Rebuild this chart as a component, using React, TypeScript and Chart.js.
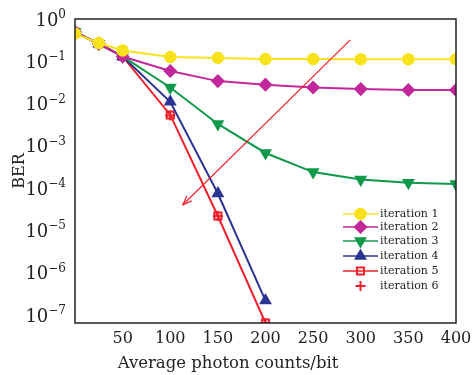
import React, { useEffect, useRef } from "react";
import { Chart, registerables } from "chart.js";
import { drawPoint } from "chart.js/helpers";

Chart.register(...registerables);

const xValues = [0, 25, 50, 100, 150, 200, 250, 300, 350, 400];
const iter1 = [0.45, 0.27, 0.18, 0.126, 0.12, 0.113, 0.113, 0.112, 0.112, 0.112];
const iter2 = [0.49, 0.26, 0.13, 0.059, 0.034, 0.028, 0.024, 0.022, 0.021, 0.021];
const iter3 = [0.49, 0.26, 0.13, 0.024, 0.0033, 0.00068, 0.00024, 0.00016, 0.000135, 0.000125];
const iter4x = [0, 25, 50, 100, 150, 200];
const iter4 = [0.49, 0.26, 0.13, 0.011, 0.000075, 0.00000022];
const iter5x = [0, 25, 50, 100, 150, 200];
const iter5 = [0.49, 0.26, 0.13, 0.0054, 0.000022, 0.000000065];
const iter6x = [0, 25, 50, 100, 150, 200];
const iter6 = [0.49, 0.26, 0.13, 0.0052, 0.000022, 0.000000065];
const labels = ["iteration 1", "iteration 2", "iteration 3", "iteration 4", "iteration 5", "iteration 6"];
const yTickValues = [1e-7, 1e-6, 1e-5, 1e-4, 1e-3, 1e-2, 1e-1, 1];
const xTickValues = [50, 100, 150, 200, 250, 300, 350, 400];
const xTitle = "Average photon counts/bit";
const yTitle = "BER";
const arrowStart = [289, 0.32];
const arrowEnd = [113, 0.00004];

const FONT = "'DejaVu Serif', 'Liberation Serif', serif";

const pts = (xs: number[], ys: number[]) => xs.map((x, i) => ({ x, y: ys[i] }));

export default function App() {
  const ref = useRef<HTMLCanvasElement>(null);
  useEffect(() => {
    document.body.style.margin = "0";
    const ctx = ref.current!;
    const frame = {
      id: "frame",
      afterDraw(chart: any) {
        const { ctx, chartArea: a, scales } = chart;
        ctx.save();
        // y tick labels: 10 with a raised exponent
        ctx.fillStyle = "#222";
        ctx.textAlign = "right";
        ctx.textBaseline = "alphabetic";
        const rx = a.left - 9;
        yTickValues.forEach((v) => {
          const py = scales.y.getPixelForValue(v);
          const e = Math.round(Math.log10(v));
          const es = e < 0 ? "\u2212" + String(-e) : String(e);
          ctx.font = `12px ${FONT}`;
          const ew = ctx.measureText(es).width;
          ctx.fillText(es, rx, py - 1);
          ctx.font = `18px ${FONT}`;
          ctx.fillText("10", rx - ew, py + 6.5);
        });
        // x title
        ctx.textAlign = "center";
        ctx.font = `16.5px ${FONT}`;
        ctx.fillText(xTitle, 228, 368);
        ctx.restore();
      },
      afterDatasetsDraw(chart: any) {
        const { ctx, chartArea: a, scales } = chart;
        ctx.save();
        ctx.strokeStyle = "#222";
        ctx.lineWidth = 1.5;
        ctx.strokeRect(a.left, a.top, a.right - a.left, a.bottom - a.top);
        // arrow
        const x1 = scales.x.getPixelForValue(arrowStart[0]);
        const y1 = scales.y.getPixelForValue(arrowStart[1]);
        const x2 = scales.x.getPixelForValue(arrowEnd[0]);
        const y2 = scales.y.getPixelForValue(arrowEnd[1]);
        ctx.strokeStyle = "#f0202a";
        ctx.lineWidth = 1.2;
        ctx.beginPath();
        ctx.moveTo(x1, y1);
        ctx.lineTo(x2, y2);
        ctx.stroke();
        const ang = Math.atan2(y2 - y1, x2 - x1);
        const L = 10;
        ctx.beginPath();
        ctx.moveTo(x2, y2);
        ctx.lineTo(x2 - L * Math.cos(ang - 0.35), y2 - L * Math.sin(ang - 0.35));
        ctx.moveTo(x2, y2);
        ctx.lineTo(x2 - L * Math.cos(ang + 0.35), y2 - L * Math.sin(ang + 0.35));
        ctx.stroke();
        // legend
        const lx0 = 343, lx1 = 378, tx = 380;
        const ys = [214, 227, 241, 256, 271, 286];
        ctx.font = `11px ${FONT}`;
        ctx.textBaseline = "middle";
        chart.data.datasets.forEach((ds: any, i: number) => {
          const y = ys[i];
          if (ds.showLine !== false) {
            ctx.strokeStyle = ds.borderColor;
            ctx.lineWidth = 1.5;
            ctx.beginPath();
            ctx.moveTo(lx0, y);
            ctx.lineTo(lx1, y);
            ctx.stroke();
          }
          ctx.fillStyle = ds.pointBackgroundColor;
          ctx.strokeStyle = ds.borderColor;
          ctx.lineWidth = ds.pointBorderWidth || 1.5;
          drawPoint(ctx, {
            pointStyle: ds.pointStyle,
            rotation: ds.pointRotation || 0,
            radius: ds.pointRadius,
            borderWidth: ds.pointBorderWidth || 1.5,
          } as any, (lx0 + lx1) / 2, y);
          ctx.fillStyle = "#222";
          ctx.fillText(labels[i], tx, y);
        });
        ctx.restore();
      },
    };
    const mk = (i: number, data: any[], color: string, style: string, radius: number, extra: any = {}) => ({
      label: labels[i],
      data,
      borderColor: color,
      backgroundColor: color,
      pointBackgroundColor: color,
      pointBorderColor: color,
      borderWidth: 2,
      pointStyle: style,
      pointRadius: radius,
      pointBorderWidth: 1.5,
      ...extra,
    });
    const chart = new Chart(ctx, {
      type: "line",
      data: {
        datasets: [
          mk(0, pts(xValues, iter1), "#f7e21c", "circle", 5.5),
          mk(1, pts(xValues, iter2), "#c3279b", "rectRot", 6),
          mk(2, pts(xValues, iter3), "#10994a", "triangle", 6, { pointRotation: 180 }),
          mk(3, pts(iter4x, iter4), "#2a3593", "triangle", 6),
          mk(4, pts(iter5x, iter5), "#ef1f2a", "rect", 5, { pointBackgroundColor: "rgba(255,255,255,0)", pointBorderWidth: 2 }),
          mk(5, pts(iter6x, iter6), "#ef1f2a", "cross", 5, { showLine: false, pointBorderWidth: 2 }),
        ] as any,
      },
      options: {
        animation: false,
        responsive: false,
        layout: { padding: { top: 19, right: 16, left: 10, bottom: 0 } },
        plugins: { legend: { display: false }, tooltip: { enabled: false } },
        scales: {
          x: {
            type: "linear",
            min: 0,
            max: 400,
            grid: { display: false, drawTicks: false },
            border: { display: false },
            afterBuildTicks: (s: any) => { s.ticks = xTickValues.map((v) => ({ value: v })); },
            afterFit: (s: any) => { s.height = 52; s.paddingRight = 0; s.paddingLeft = 0; },
            ticks: { color: "#222", font: { family: FONT, size: 16 }, padding: 6, maxRotation: 0, callback: (v: any) => String(v) },
          },
          y: {
            type: "logarithmic",
            min: 6.5e-8,
            max: 1,
            grid: { display: false, drawTicks: false },
            border: { display: false },
            afterBuildTicks: (s: any) => { s.ticks = yTickValues.map((v) => ({ value: v })); },
            afterFit: (s: any) => { s.width = 65; },
            ticks: { display: false },
            title: { display: true, text: yTitle, color: "#222", font: { family: FONT, size: 16 }, padding: { top: 0, bottom: 0 } },
          },
        },
      } as any,
      plugins: [frame],
    });
    return () => chart.destroy();
  }, []);
  return <canvas ref={ref} width={472} height={375} style={{ display: "block" }} />;
}
